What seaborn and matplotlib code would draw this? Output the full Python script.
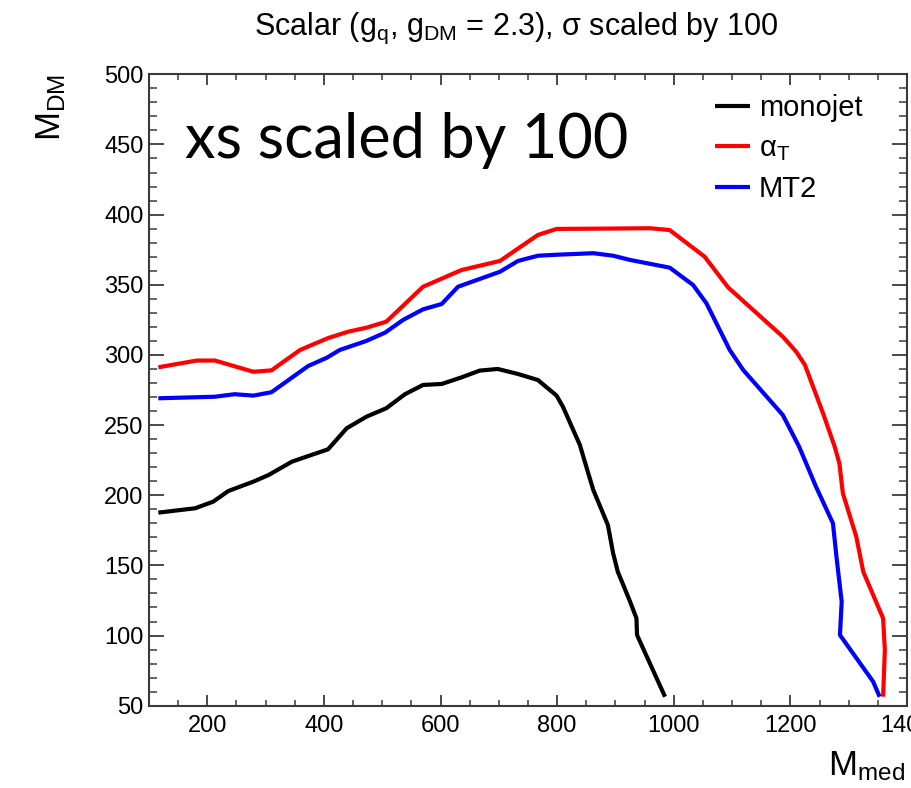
import matplotlib
matplotlib.use("Agg")
import matplotlib.pyplot as plt
from matplotlib.ticker import MultipleLocator
import seaborn as sns
import pandas as pd

# ---- data ----
monojet_x = [116, 179, 210, 236, 279, 305, 345, 370, 407, 439, 473, 507, 539, 570, 602, 636, 667, 698,
             733, 767, 799, 810, 839, 844, 862, 887, 896, 904, 924, 936, 937, 959, 985]
monojet_y = [187.6, 190.7, 195.4, 203, 209.7, 214.4, 223.9, 227.5, 232.7, 247.7, 256, 262, 272, 278.6,
             279.3, 284, 288.8, 290, 286.4, 282.1, 271, 263, 235.8, 228.7, 203.7, 178.8, 158.6, 145.5,
             125.3, 112.3, 100.4, 80.2, 56.4]
alphaT_x = [116, 182, 213, 279, 310, 359, 407, 442, 473, 507, 570, 636, 702, 767, 799, 873, 959, 993,
            1053, 1093, 1187, 1210, 1225, 1256, 1276, 1284, 1290, 1313, 1325, 1359, 1362, 1359]
alphaT_y = [291.2, 296, 296, 288, 289, 303.5, 312, 316.6, 319.4, 323.7, 348.6, 360.5, 367, 385.5, 389.8,
            390, 390.3, 389, 370, 348.2, 313, 302.3, 292.8, 258.4, 234.6, 222.8, 201.4, 170.5, 145.5,
            112.3, 89.7, 56.4]
mt2_x = [116, 213, 247, 279, 310, 373, 405, 427, 473, 505, 536, 570, 602, 630, 702, 733, 767, 799, 862,
         896, 925, 993, 1033, 1056, 1096, 1119, 1187, 1215, 1244, 1273, 1279, 1288, 1285, 1342, 1353]
mt2_y = [269.1, 270.2, 272, 271, 273.4, 292.1, 298, 303.5, 310, 315.9, 325, 332.5, 336.3, 348.6, 359.3,
         367, 370.7, 371.4, 372.5, 370.7, 367.7, 362.2, 349.9, 336.8, 303.5, 289.3, 257.2, 234.6, 206,
         180, 156.2, 124.1, 100.4, 67.1, 56.4]

series_names = ["monojet", r"$\mathregular{\alpha_T}$", "MT2"]
series_colors = ["#000000", "#ff0000", "#0000ff"]
title_text = r"Scalar (g$\mathregular{_q}$, g$\mathregular{_{DM}}$ = 2.3), σ scaled by 100"
annot_text = "xs scaled by 100"
xlabel_text = r"$\mathregular{M_{med}}$"
ylabel_text = r"$\mathregular{M_{DM}}$"

frames = []
for name, xs, ys in zip(series_names, [monojet_x, alphaT_x, mt2_x], [monojet_y, alphaT_y, mt2_y]):
    frames.append(pd.DataFrame({"mmed": xs, "mdm": ys, "series": name}))
df = pd.concat(frames, ignore_index=True)

sns.set_theme(style="ticks")
plt.rcParams["font.family"] = ["Liberation Sans", "DejaVu Sans"]
plt.rcParams["mathtext.fontset"] = "custom"
plt.rcParams["mathtext.rm"] = "Liberation Sans"
plt.rcParams["mathtext.it"] = "Liberation Sans:italic"
plt.rcParams["mathtext.bf"] = "Liberation Sans:bold"
plt.rcParams["text.color"] = "black"
plt.rcParams["axes.labelcolor"] = "black"
plt.rcParams["xtick.labelcolor"] = "black"
plt.rcParams["ytick.labelcolor"] = "black"

fig = plt.figure(figsize=(9.11, 7.88), dpi=100)
ax = fig.add_axes([149 / 911, 1 - 705.7 / 788, (907 - 149) / 911, (705.7 - 74.3) / 788])

sns.lineplot(data=df, x="mmed", y="mdm", hue="series", hue_order=series_names,
             palette=dict(zip(series_names, series_colors)), sort=False, estimator=None,
             units="series", linewidth=3.0, ax=ax)
for ln in ax.get_lines():
    ln.set_solid_capstyle("butt")

ax.set_xlim(100, 1400)
ax.set_ylim(50, 500)
ax.xaxis.set_major_locator(MultipleLocator(200))
ax.xaxis.set_minor_locator(MultipleLocator(50))
ax.yaxis.set_major_locator(MultipleLocator(50))
ax.yaxis.set_minor_locator(MultipleLocator(10))

spine_col = "#3a3a3a"
for sp in ax.spines.values():
    sp.set_visible(True)
    sp.set_color(spine_col)
    sp.set_linewidth(1.5)

ax.tick_params(axis="both", which="both", direction="in", top=True, right=True,
               color=spine_col, labelcolor="black", labelsize=17)
ax.tick_params(axis="x", which="major", length=8, width=1.3, pad=7)
ax.tick_params(axis="x", which="minor", length=4, width=1.1)
ax.tick_params(axis="y", which="major", length=11, width=1.3, pad=4)
ax.tick_params(axis="y", which="minor", length=5.5, width=1.1)

ax.set_xlabel(xlabel_text, fontsize=25, loc="right", color="black")
ax.xaxis.set_label_coords((905 - 149) / 758, -(749 - 705.7) / 631.4)
ax.set_ylabel(ylabel_text, fontsize=25, loc="top", color="black")
ax.yaxis.set_label_coords(-(149 - 68) / 758, 1.0)

fig.text(516 / 911, 1 - 28 / 788, title_text, ha="center", va="center", fontsize=22, color="black")

ax.text((185 - 149) / 758, (705.7 - 158) / 631.4, annot_text, transform=ax.transAxes,
        ha="left", va="baseline", fontsize=44, color="black", family=["Lato", "DejaVu Sans"])

leg = ax.legend(loc="upper left", bbox_to_anchor=(715 / 911, 1 - 94 / 788),
                bbox_transform=fig.transFigure, frameon=False, fontsize=21,
                handlelength=1.2, handletextpad=0.3, labelspacing=0.42, borderpad=0,
                borderaxespad=0)
for h in leg.get_lines():
    h.set_linewidth(3.0)
for t in leg.get_texts():
    t.set_color("black")

fig.savefig("out.png", dpi=100)
